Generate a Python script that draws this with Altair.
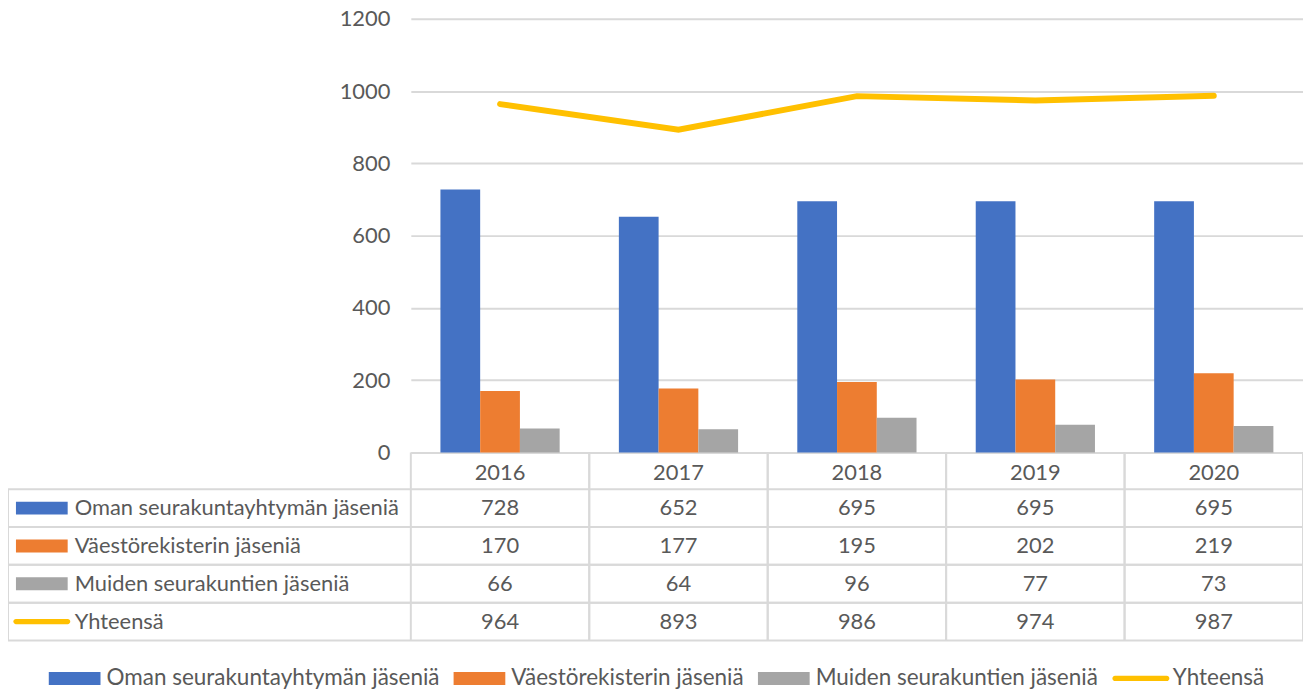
import altair as alt
import pandas as pd

years = ["2016", "2017", "2018", "2019", "2020"]
series = [
    "Oman seurakuntayhtymän jäseniä",
    "Väestörekisterin jäseniä",
    "Muiden seurakuntien jäseniä",
    "Yhteensä",
]
own = [728, 652, 695, 695, 695]
registry = [170, 177, 195, 202, 219]
others = [66, 64, 96, 77, 73]
total = [964, 893, 986, 974, 987]
colors = ["#4472C4", "#ED7D31", "#A5A5A5", "#FFC000"]
y_ticks = [0, 200, 400, 600, 800, 1000, 1200]

rows = []
for s, vals in zip(series, [own, registry, others, total]):
    for yr, v in zip(years, vals):
        rows.append({"year": yr, "series": s, "value": v})
df = pd.DataFrame(rows)
bars_df = df[df.series != series[3]]
line_df = df[df.series == series[3]]
label_df = pd.DataFrame({"series": series})
year_df = pd.DataFrame({"year": years})
one_df = pd.DataFrame({"a": [0]})

FONT = "Lato"
FS = 22
TEXT = "#595959"
GRID = "#D9D9D9"
W, H = 897, 436

BOX = "M-1,-0.25H1V0.25H-1Z"
LINE = "M-1.0,-0.1H1.0A0.1,0.1 0 0 1 1.0,0.1H-1.0A0.1,0.1 0 0 1 -1.0,-0.1Z"

x_axis = alt.Axis(
    title=None, labelAngle=0, ticks=False, tickSize=0, domain=True,
    domainColor=GRID, domainWidth=2, labelPadding=20, labelBaseline="middle",
    labelFontSize=FS, labelColor=TEXT, labelFont=FONT, grid=False,
)
x_scale = alt.Scale(domain=years, paddingInner=0, paddingOuter=0)


def X(**kw):
    return alt.X("year:O", scale=x_scale, axis=x_axis, **kw)


y_scale = alt.Scale(domain=[0, 1200], nice=False)
color_scale = alt.Scale(domain=series, range=colors)
shape_scale = alt.Scale(domain=series, range=[BOX, BOX, BOX, LINE])
table_y = alt.Scale(domain=series, range=[473, 625], paddingInner=0, paddingOuter=0)


def TY(**kw):
    return alt.Y("series:N", scale=table_y, axis=None, **kw)


legend = alt.Legend(
    orient="none", legendX=-364, legendY=637, direction="horizontal", title=None,
    symbolSize=2704, symbolStrokeWidth=0, labelFontSize=22.6,
    labelFont=FONT, labelColor=TEXT, labelLimit=1000, labelOffset=6, columnPadding=14,
)

swatches = alt.Chart(label_df).mark_point(
    filled=True, size=2704, opacity=1, strokeWidth=0
).encode(
    x=alt.value(-371), y=TY(),
    color=alt.Color("series:N", scale=color_scale, legend=legend),
    shape=alt.Shape("series:N", scale=shape_scale, legend=legend),
)

bars = alt.Chart(bars_df).mark_bar().encode(
    x=X(),
    xOffset=alt.XOffset("series:N", scale=alt.Scale(domain=series[:3], paddingInner=0, paddingOuter=0.745)),
    y=alt.Y("value:Q", scale=y_scale, axis=alt.Axis(
        values=y_ticks, format="d", title=None, grid=True, gridColor=GRID, gridWidth=2,
        domain=False, ticks=False, labelPadding=21, labelFontSize=FS,
        labelColor=TEXT, labelFont=FONT)),
    color=alt.Color("series:N", scale=color_scale),
)

line = alt.Chart(line_df).mark_line(strokeWidth=6, strokeCap="round", strokeJoin="miter").encode(
    x=X(),
    y=alt.Y("value:Q", scale=y_scale),
    color=alt.Color("series:N", scale=color_scale),
)

plot = alt.layer(bars, line)

cells = alt.Chart(df).mark_text(font=FONT, fontSize=FS, color=TEXT, baseline="middle").encode(
    x=X(), y=TY(), text="value:Q",
)

row_labels = alt.Chart(label_df).mark_text(
    font=FONT, fontSize=FS, color=TEXT, align="left", baseline="middle"
).encode(x=alt.value(-338), y=TY(), text="series:N")

h_top = alt.Chart(label_df).mark_rule(color=GRID, strokeWidth=2).encode(
    y=TY(bandPosition=0), x=alt.value(-405), x2=alt.value(W))
h_bot = alt.Chart(label_df).mark_rule(color=GRID, strokeWidth=2).encode(
    y=TY(bandPosition=1), x=alt.value(-405), x2=alt.value(W))
v_left = alt.Chart(year_df).mark_rule(color=GRID, strokeWidth=2).encode(
    x=X(bandPosition=0), y=alt.value(H), y2=alt.value(625))
v_right = alt.Chart(year_df).mark_rule(color=GRID, strokeWidth=2).encode(
    x=X(bandPosition=1), y=alt.value(H), y2=alt.value(625))
border = alt.Chart(one_df).mark_rule(color=GRID, strokeWidth=2).encode(
    x=alt.value(-405), y=alt.value(473), y2=alt.value(625))

chart = alt.layer(
    swatches, plot, h_top, h_bot, v_left, v_right, border, cells, row_labels
).resolve_scale(y="independent").properties(
    width=W, height=H,
    padding={"left": 405, "top": 9, "right": 0, "bottom": 244},
    autosize=alt.AutoSizeParams(type="none"),
).configure_view(stroke=None)

chart.save("out.html", embed_options={"renderer": "svg", "actions": False})
